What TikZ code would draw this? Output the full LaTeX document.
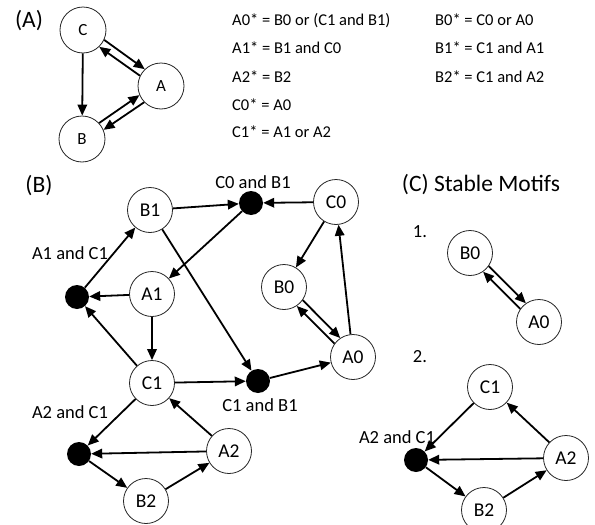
\documentclass[tikz,border=0pt]{standalone}
\usepackage{fontspec}
\setmainfont{Carlito}
\usetikzlibrary{arrows.meta,calc}
\newcommand\dblarr[2]{\draw[arr] let \p1=($(#2)-(#1)$), \n1={atan2(\y1,\x1)}, \n2={\n1+10}, \n3={\n1+170} in (#1.\n2) -- (#2.\n3);}
\begin{document}
\begin{tikzpicture}[x=1pt,y=-1pt,
 st/.style={circle,draw=black!85,line width=0.8pt,minimum size=45pt,inner sep=0pt,font=\fontsize{19.5}{19.5}\selectfont},
 sa/.style={st,font=\fontsize{17}{17}\selectfont,minimum size=46pt},
 dot/.style={circle,fill=black,minimum size=24pt,inner sep=0pt},
 arr/.style={-{Triangle[length=11pt,width=9.5pt]},line width=1.8pt},
 lbl/.style={font=\fontsize{18.5}{18.5}\selectfont},
 eq/.style={anchor=base west,font=\fontsize{16.5}{16.5}\selectfont,inner sep=0pt},
 ttl/.style={font=\fontsize{23.5}{23.5}\selectfont}
]
\useasboundingbox (0,0) rectangle (595,525);
% Panel A
\node[ttl] (tA) at (29,21) {(A)};
\node[sa] (C) at (83,30) {C};
\node[sa] (A) at (161,86) {A};
\node[sa] (B) at (82,139) {B};
\dblarr{C}{A}
\dblarr{A}{C}
\draw[arr] (C) -- (B);
\dblarr{B}{A}
\dblarr{A}{B}
\node[eq] (e1) at (232,25) {A0* = B0 or (C1 and B1)};
\node[eq] (e2) at (232,53) {A1* = B1 and C0};
\node[eq] (e3) at (232,82) {A2* = B2};
\node[eq] (e4) at (232,110) {C0* = A0};
\node[eq] (e5) at (232,137) {C1* = A1 or A2};
\node[eq] (e6) at (435,25) {B0* = C0 or A0};
\node[eq] (e7) at (435,53) {B1* = C1 and A1};
\node[eq] (e8) at (435,82) {B2* = C1 and A2};
% Panel B
\node[ttl] (tB) at (39,186) {(B)};
\node[st] (B1) at (150,210) {B1};
\node[dot] (dCB) at (251,203) {};
\node[st] (C0) at (336,202) {C0};
\node[st] (A1) at (152,294) {A1};
\node[dot] (dAC) at (77,297) {};
\node[st] (B0) at (284,287) {B0};
\node[st] (A0) at (353,357) {A0};
\node[st] (C1) at (152,383) {C1};
\node[dot] (dCB1) at (258,381) {};
\node[dot] (dA2) at (79,454) {};
\node[st] (A2) at (229,451) {A2};
\node[st] (B2) at (146,501) {B2};
\node[lbl] (l1) at (253,182) {C0 and B1};
\node[lbl] (l2) at (70,253) {A1 and C1};
\node[lbl] (l3) at (260,405) {C1 and B1};
\node[lbl] (l4) at (70,412) {A2 and C1};
\draw[arr] (B1) -- (dCB);
\draw[arr] (C0) -- (dCB);
\draw[arr] (dCB) -- (A1);
\draw[arr] (C0) -- (B0);
\draw[arr] (A0) -- (C0);
\dblarr{B0}{A0}
\dblarr{A0}{B0}
\draw[arr] (A1) -- (dAC);
\draw[arr] (dAC) -- (B1);
\draw[arr] (C1) -- (dAC);
\draw[arr] (A1) -- (C1);
\draw[arr] (B1) -- (dCB1);
\draw[arr] (C1) -- (dCB1);
\draw[arr] (dCB1) -- (A0);
\draw[arr] (C1) -- (dA2);
\draw[arr] (A2) -- (dA2);
\draw[arr] (A2) -- (C1);
\draw[arr] (dA2) -- (B2);
\draw[arr] (B2) -- (A2);
% Panel C
\node[ttl] (tC) at (481,185) {(C) Stable Motifs};
\node[lbl] (n1) at (420,232) {1.};
\node[lbl] (n2) at (420,357) {2.};
\node[st] (B0c) at (470,253) {B0};
\node[st] (A0c) at (539,322) {A0};
\dblarr{B0c}{A0c}
\dblarr{A0c}{B0c}
\node[st] (C1c) at (490,387) {C1};
\node[dot] (dc) at (416,460) {};
\node[st] (A2c) at (566,458) {A2};
\node[st] (B2c) at (484,510) {B2};
\node[lbl] (l5) at (397,437) {A2 and C1};
\draw[arr] (C1c) -- (dc);
\draw[arr] (A2c) -- (dc);
\draw[arr] (A2c) -- (C1c);
\draw[arr] (dc) -- (B2c);
\draw[arr] (B2c) -- (A2c);
\end{tikzpicture}
\end{document}
